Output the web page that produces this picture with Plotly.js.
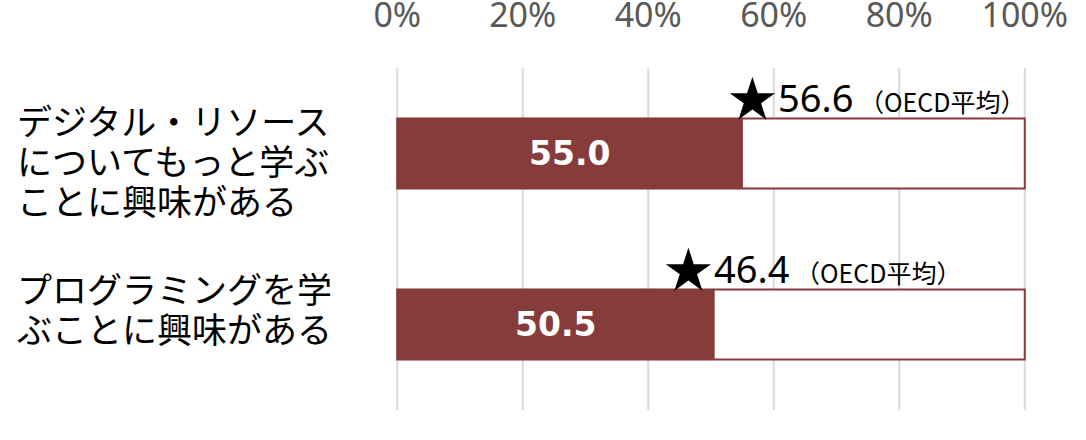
<!DOCTYPE html>
<html>
<head>
<meta charset="utf-8">
<script src="https://cdn.plot.ly/plotly-3.0.1.min.js"></script>
<style>html,body{margin:0;padding:0;background:#fff;}#chart{width:1086px;height:440px;}</style>
</head>
<body>
<div id="chart"></div>
<script>
// ---- data ----
const categories = ['デジタル・リソースについてもっと学ぶことに興味がある', 'プログラミングを学ぶことに興味がある'];
const labelLines = [
  ['デジタル・リソース', 'についてもっと学ぶ', 'ことに興味がある'],
  ['プログラミングを学', 'ぶことに興味がある']
];
const japanValues = [55.0, 50.5];
const oecdValues = [56.6, 46.4];
const oecdSuffix = '（OECD平均）';
const fullValue = 100;
const xTickVals = [0, 20, 40, 60, 80, 100];
const xTickText = ['0%', '20%', '40%', '60%', '80%', '100%'];

// ---- layout helpers ----
const barColor = '#853C3A';
const gridColor = '#d9d9d9';
const idx = categories.map((c, i) => i);
const starOffset = 0.31;            // star sits above the bar (in category units)
const labelCenterShift = [6, -17];  // px, label block vertical nudge
const lineGap = 40;                 // px between label lines

const traces = [
  {
    type: 'bar', orientation: 'h',
    x: categories.map(() => fullValue), y: idx,
    width: 0.41,
    marker: {color: '#ffffff', line: {color: barColor, width: 2}},
    hoverinfo: 'skip', showlegend: false
  },
  {
    type: 'bar', orientation: 'h',
    x: japanValues, y: idx,
    width: 0.41,
    marker: {color: barColor, line: {color: barColor, width: 1}},
    text: japanValues.map(v => v.toFixed(1)),
    textposition: 'inside', insidetextanchor: 'middle',
    textfont: {family: 'DejaVu Sans', size: 33, color: '#ffffff', weight: 'bold'},
    hoverinfo: 'skip', showlegend: false
  },
  {
    type: 'scatter', mode: 'markers',
    x: oecdValues, y: idx.map(i => i - starOffset),
    marker: {symbol: 'star', size: 34, color: '#000000'},
    cliponaxis: false,
    hoverinfo: 'skip', showlegend: false
  }
];

// vertical gridlines, one per tick
const shapes = xTickVals.map(v => ({
  type: 'line', layer: 'below', xref: 'x', yref: 'paper',
  x0: v, x1: v, y0: 0, y1: 1,
  line: {color: gridColor, width: 2}
}));

const annotations = [];
labelLines.forEach((lines, k) => {
  const n = lines.length;
  lines.forEach((line, i) => {
    annotations.push({
      xref: 'paper', yref: 'y', x: -0.605, y: idx[k],
      xanchor: 'left', yanchor: 'middle',
      yshift: -(labelCenterShift[k] + (i - (n - 1) / 2) * lineGap),
      text: line, showarrow: false,
      font: {family: 'Noto Sans CJK JP', size: 35, color: '#000000'}
    });
  });
});
oecdValues.forEach((v, k) => {
  annotations.push({
    xref: 'x', yref: 'y', x: v, y: idx[k] - starOffset,
    xanchor: 'left', yanchor: 'middle', xshift: 24, yshift: 3,
    text: v.toFixed(1) + '<span style="font-size:25px;font-family:\'Noto Sans CJK JP\'"> ' + oecdSuffix + '</span>',
    showarrow: false,
    font: {family: 'Noto Sans', size: 38, color: '#000000'}
  });
});

const layout = {
  width: 1086, height: 440,
  margin: {l: 396, r: 60, t: 68, b: 30},
  paper_bgcolor: '#ffffff', plot_bgcolor: '#ffffff',
  barmode: 'overlay',
  xaxis: {
    side: 'top', range: [-0.2, 100.2],
    tickvals: xTickVals, ticktext: xTickText,
    ticks: '', ticklabelstandoff: 33,
    tickfont: {family: 'Noto Sans', size: 34, color: '#595959'},
    showgrid: false, zeroline: false, showline: false, fixedrange: true
  },
  yaxis: {
    range: [1.5, -0.5], showticklabels: false, showgrid: false,
    zeroline: false, showline: false, fixedrange: true
  },
  shapes: shapes,
  annotations: annotations,
  showlegend: false
};

Plotly.newPlot('chart', traces, layout, {displayModeBar: false, staticPlot: true});
</script>
</body>
</html>
